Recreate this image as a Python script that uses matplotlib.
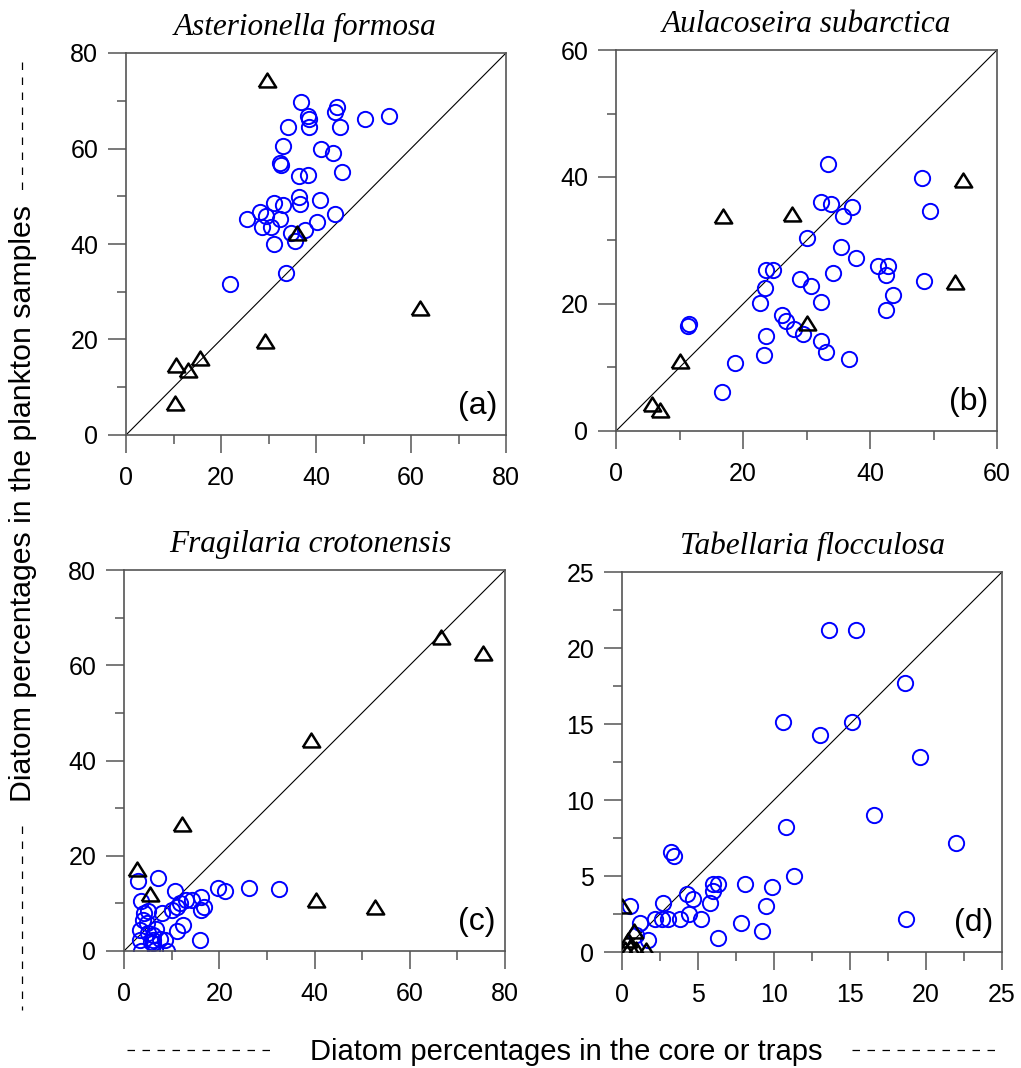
import matplotlib
matplotlib.use('Agg')
import matplotlib.pyplot as plt
from matplotlib.lines import Line2D
from matplotlib.ticker import MultipleLocator

# Asterionella formosa
a_circ_x = [36.8, 44.4, 43.9, 38.4, 38.5, 50.3, 55.3, 34.2, 38.6, 45.1, 33.1, 41.1, 43.5,
            32.4, 32.7, 45.4, 36.5, 38.4, 36.4, 36.6, 40.8, 31.2, 33.1, 28.3, 29.4, 25.4,
            32.5, 44.1, 28.7, 30.5, 40.3, 37.7, 34.7, 31.2, 35.5, 33.7, 21.8]
a_circ_y = [69.8, 68.6, 67.6, 66.9, 66.2, 66.2, 66.8, 64.5, 64.5, 64.4, 60.6, 60.0, 59.0,
            56.9, 56.5, 55.0, 54.2, 54.4, 49.8, 48.4, 49.3, 48.6, 48.1, 46.8, 45.9, 45.3,
            45.2, 46.3, 43.5, 43.5, 44.7, 42.9, 42.4, 40.1, 40.6, 34.0, 31.6]
a_tri_x = [29.6, 35.9, 61.9, 29.3, 15.6, 10.5, 13.1, 10.3]
a_tri_y = [74.4, 42.4, 26.6, 19.6, 16.1, 14.7, 13.6, 6.6]

# Aulacoseira subarctica
b_circ_x = [33.4, 48.2, 49.5, 32.3, 33.8, 37.1, 35.7, 30.1, 35.5, 37.8, 41.3, 42.8, 42.5,
            23.6, 24.7, 34.1, 28.9, 48.5, 30.7, 23.4, 43.7, 22.7, 32.3, 42.5, 26.1, 26.8,
            11.5, 11.3, 28.1, 29.4, 23.7, 32.3, 33.1, 23.3, 36.7, 18.8, 16.7]
b_circ_y = [42.0, 39.9, 34.6, 36.1, 35.7, 35.2, 33.8, 30.4, 29.0, 27.3, 26.0, 26.0, 24.5,
            25.3, 25.3, 24.9, 23.9, 23.6, 22.8, 22.5, 21.4, 20.2, 20.3, 19.0, 18.3, 17.3,
            16.8, 16.6, 16.1, 15.3, 15.0, 14.1, 12.4, 12.0, 11.4, 10.7, 6.2]
b_tri_x = [54.6, 16.8, 27.7, 53.4, 30.1, 10.0, 5.6, 6.9]
b_tri_y = [39.5, 33.8, 34.1, 23.4, 17.0, 11.0, 4.3, 3.3]

# Fragilaria crotonensis
c_circ_x = [7.1, 3.0, 19.8, 21.3, 26.3, 32.5, 10.8, 16.2, 14.2, 13.0, 11.8, 11.1, 10.1,
            16.9, 16.2, 3.5, 5.1, 7.9, 4.2, 3.9, 4.9, 3.3, 6.8, 12.3, 11.1, 6.1, 3.3,
            6.1, 8.6, 16.0, 6.1, 5.6, 7.5, 3.5, 6.5, 9.0, 5.1]
c_circ_y = [15.4, 14.7, 13.2, 12.6, 13.3, 13.0, 12.6, 11.4, 10.7, 10.7, 10.0, 9.3, 8.6,
            9.3, 8.7, 10.4, 8.5, 8.0, 7.9, 6.5, 5.8, 4.5, 4.7, 5.4, 4.2, 3.3, 2.3,
            2.4, 2.3, 2.4, 1.6, 1.9, 2.6, 0.0, 0.2, 0.0, 3.8]
c_tri_x = [66.5, 75.3, 39.3, 12.2, 2.8, 5.4, 40.3, 52.7]
c_tri_y = [65.9, 62.5, 44.4, 26.6, 17.2, 11.9, 10.7, 9.2]

# Tabellaria flocculosa
d_circ_x = [13.6, 15.4, 18.6, 10.6, 15.1, 13.0, 19.6, 16.6, 10.8, 22.0, 3.2, 3.4, 11.3,
            6.0, 6.3, 8.1, 6.0, 9.9, 4.3, 4.7, 2.7, 5.8, 0.5, 9.5, 4.4, 2.2, 2.6, 3.0,
            3.8, 5.2, 18.7, 1.2, 7.8, 9.2, 1.7, 6.3, 0.9]
d_circ_y = [21.2, 21.2, 17.7, 15.1, 15.1, 14.3, 12.8, 9.0, 8.2, 7.2, 6.6, 6.3, 5.0,
            4.5, 4.5, 4.5, 4.0, 4.3, 3.8, 3.5, 3.2, 3.2, 3.0, 3.0, 2.5, 2.2, 2.2, 2.2,
            2.2, 2.2, 2.2, 1.9, 1.9, 1.4, 0.8, 0.9, 1.1]
d_tri_x = [0.0, 0.8, 0.4, 0.55, 0.2, 1.6, 0.9]
d_tri_y = [3.0, 1.4, 0.8, 0.3, 0.2, 0.1, 0.2]

titles = ['Asterionella formosa', 'Aulacoseira subarctica',
          'Fragilaria crotonensis', 'Tabellaria flocculosa']
title_x = [0.471, 0.5, 0.49, 0.5]
letters = ['(a)', '(b)', '(c)', '(d)']
limits = [80, 60, 80, 25]
major = [20, 20, 20, 5]
minor = [10, 10, 10, 2.5]

panels = [(a_circ_x, a_circ_y, a_tri_x, a_tri_y),
          (b_circ_x, b_circ_y, b_tri_x, b_tri_y),
          (c_circ_x, c_circ_y, c_tri_x, c_tri_y),
          (d_circ_x, d_circ_y, d_tri_x, d_tri_y)]

W, H = 1021, 1068
boxes = [(126, 53, 506, 435), (616, 50, 997, 431),
         (124, 570, 505, 951), (622, 572, 1002, 952)]

tri = [(-1, -0.8), (1, -0.8), (0, 0.8), (-1, -0.8)]
spine_col = '#555555'

fig = plt.figure(figsize=(W / 100, H / 100), dpi=100)

for i, (cx, cy, tx, ty) in enumerate(panels):
    l, t, r, b = boxes[i]
    ax = fig.add_axes([l / W, 1 - b / H, (r - l) / W, (b - t) / H])
    lim = limits[i]
    ax.plot([0, lim], [0, lim], color='black', lw=0.8, zorder=1)
    ax.plot(cx, cy, 'o', ls='none', ms=11, mfc='none', mec='#0000ff', mew=1.4, zorder=2)
    ax.plot(tx, ty, marker=tri, ls='none', ms=12.5, mfc='none', mec='black', mew=1.8, zorder=3)
    ax.set_xlim(0, lim)
    ax.set_ylim(0, lim)
    ax.xaxis.set_major_locator(MultipleLocator(major[i]))
    ax.yaxis.set_major_locator(MultipleLocator(major[i]))
    ax.xaxis.set_minor_locator(MultipleLocator(minor[i]))
    ax.yaxis.set_minor_locator(MultipleLocator(minor[i]))
    ax.tick_params(which='both', direction='out', color=spine_col, width=1.1)
    ax.tick_params(which='major', length=13, labelsize=18, labelfontfamily='Liberation Sans')
    ax.tick_params(which='minor', length=6.5)
    ax.tick_params(axis='x', which='major', pad=9)
    ax.tick_params(axis='y', which='major', pad=7)
    for sp in ax.spines.values():
        sp.set_color(spine_col)
        sp.set_linewidth(1.2)
    ax.set_title(titles[i], x=title_x[i], fontfamily='Liberation Serif', fontstyle='italic',
                 fontsize=22.5, pad=13)
    ax.text(0.976, 0.036, letters[i], transform=ax.transAxes, ha='right', va='bottom',
            fontsize=23, fontfamily='Liberation Sans')

fig.text(566 / W, 1 - 1052 / H, 'Diatom percentages in the core or traps',
         ha='center', va='center', fontsize=21, fontfamily='Liberation Sans')
fig.text(23 / W, 1 - 503 / H, 'Diatom percentages in the plankton samples',
         ha='center', va='center', rotation=90, fontsize=21.8, fontfamily='Liberation Sans')

# dashed leaders either side of the axis titles
dash = dict(color='black', lw=0.9, ls=(0, (6, 6)))
fig.add_artist(Line2D([127 / W, 270 / W], [1 - 1050 / H] * 2, **dash))
fig.add_artist(Line2D([852 / W, 1000 / W], [1 - 1050 / H] * 2, **dash))
fig.add_artist(Line2D([22 / W] * 2, [1 - 62 / H, 1 - 190 / H], **dash))
fig.add_artist(Line2D([22 / W] * 2, [1 - 826 / H, 1 - 1010 / H], **dash))

fig.savefig('out.png', dpi=100)
